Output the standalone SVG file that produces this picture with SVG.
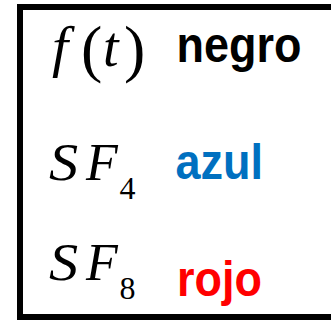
<svg xmlns="http://www.w3.org/2000/svg" width="331" height="321" viewBox="0 0 331 321">
<style>
.m{font-family:"Liberation Serif","DejaVu Serif",serif;font-style:italic;fill:#000}
.u{font-style:normal}
.l{font-family:"Liberation Sans",Arial,sans-serif;font-weight:bold}
</style>
<rect x="0" y="0" width="331" height="321" fill="#fff"/>
<g id="frame">
<rect x="20" y="7" width="330" height="310" fill="none" stroke="#000" stroke-width="6"/>
</g>
<g id="row-ft">
<text class="m" font-size="58" y="66"><tspan x="52">f</tspan></text>
<text class="m" font-size="56" y="66"><tspan x="103">t</tspan></text>
<text class="m u" font-size="64" y="70"><tspan x="81">(</tspan><tspan x="124">)</tspan></text>
<text class="l" fill="#000" font-size="45" transform="translate(176.5,61.5) scale(1,1.12)">negro</text>
</g>
<g id="row-sf4">
<text class="m" font-size="53" transform="translate(49,180) scale(1.1,1)">S</text>
<text class="m" font-size="52" x="86" y="180">F</text>
<text class="m u" font-size="32" x="119.5" y="199">4</text>
<text class="l" fill="#0070C0" font-size="45" transform="translate(175.5,179) scale(1,1.1)">azul</text>
</g>
<g id="row-sf8">
<text class="m" font-size="53" transform="translate(49,280) scale(1.1,1)">S</text>
<text class="m" font-size="52" x="86" y="280">F</text>
<text class="m u" font-size="32" x="119.5" y="299">8</text>
<text class="l" fill="#FF0000" font-size="45" transform="translate(177,295.5) scale(1,1.12)">rojo</text>
</g>
</svg>
